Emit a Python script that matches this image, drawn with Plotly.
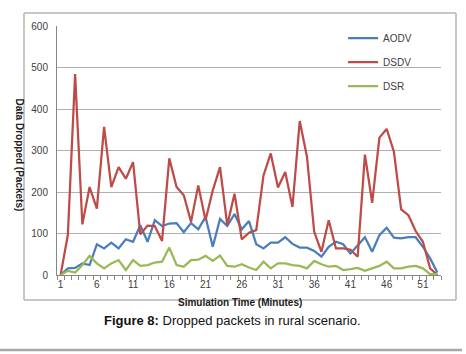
import plotly.graph_objects as go

minutes = list(range(1, 54))
aodv = [0, 16, 17, 28, 24, 74, 64, 78, 64, 86,
        80, 120, 80, 132, 118, 124, 125, 103, 125, 110,
        140, 68, 135, 118, 147, 110, 130, 74, 64, 78,
        78, 91, 75, 66, 66, 58, 44, 68, 80, 74,
        52, 72, 91, 56, 96, 114, 90, 88, 91, 91,
        68, 40, 6]
dsdv = [0, 97, 484, 122, 212, 160, 357, 212, 260, 232,
        272, 98, 119, 118, 82, 281, 212, 192, 128, 216,
        132, 204, 260, 120, 196, 86, 102, 108, 240, 293,
        211, 248, 164, 371, 285, 104, 56, 132, 64, 64,
        61, 44, 290, 174, 331, 352, 297, 158, 144, 106,
        80, 16, 0]
dsr = [0, 10, 6, 24, 46, 28, 16, 28, 36, 12,
       36, 22, 24, 30, 32, 66, 24, 20, 36, 37,
       46, 34, 47, 22, 20, 26, 18, 12, 32, 16,
       28, 28, 24, 22, 16, 34, 26, 20, 22, 12,
       14, 17, 10, 16, 22, 32, 16, 16, 20, 22,
       16, 2, 2]
x_ticks = [1, 6, 11, 16, 21, 26, 31, 36, 41, 46, 51]
y_ticks = [0, 100, 200, 300, 400, 500, 600]

series = [("AODV", aodv, "#4A7EBB"), ("DSDV", dsdv, "#BE4B48"), ("DSR", dsr, "#98B954")]

fig = go.Figure()
for i, (name, vals, col) in enumerate(series):
    fig.add_trace(go.Scatter(x=minutes, y=vals, name=name, mode="lines",
                             line=dict(color=col, width=2.25), legendgroup=str(i)))

font = "Liberation Sans, Arial, sans-serif"
W, H = 466, 354
L, R, T, B = 57, 25, 26, 79
pw, ph = W - L - R, H - T - B


def px(x):
    return (x - L) / pw


def py(y):
    return (H - B - y) / ph


fig.update_layout(
    width=W, height=H,
    margin=dict(l=L, r=R, t=T, b=B),
    paper_bgcolor="white", plot_bgcolor="white",
    font=dict(family=font, size=10, color="#404040"),
    showlegend=True,
    legend=dict(x=0.745, y=1.01, xanchor="left", yanchor="top",
                bgcolor="rgba(0,0,0,0)", font=dict(size=10, color="#404040"),
                tracegroupgap=5, traceorder="grouped"),
    xaxis=dict(range=[0.5, 53.5], tickmode="array", tickvals=x_ticks,
               ticktext=[str(v) for v in x_ticks], ticks="", showgrid=False,
               showline=True, linecolor="#868686", linewidth=1, zeroline=False,
               tickfont=dict(size=10, color="#404040"),
               minor=dict(tickmode="linear", tick0=0.5, dtick=1, ticks="outside",
                          ticklen=4, tickcolor="#868686", showgrid=False)),
    yaxis=dict(range=[0, 600], tickmode="array", tickvals=y_ticks,
               ticks="", showgrid=True, gridcolor="#B0B0B0", gridwidth=1,
               showline=True, linecolor="#868686", linewidth=1, zeroline=False,
               ticklabelstandoff=6,
               tickfont=dict(size=10, color="#404040")),
)

# outer chart frame (drawn as four lines)
frame = [(24, 13, 456, 13), (24, 300, 456, 300), (24, 13, 24, 300), (456, 13, 456, 300)]
for x0, y0, x1, y1 in frame:
    fig.add_shape(type="line", xref="paper", yref="paper",
                  x0=px(x0), x1=px(x1), y0=py(y0), y1=py(y1),
                  line=dict(color="#B4B4B4", width=1.5))
# page border at bottom of image
fig.add_shape(type="line", xref="paper", yref="paper",
              x0=px(0), x1=px(462), y0=py(350), y1=py(350),
              line=dict(color="#A8A8A8", width=2.5))

fig.add_annotation(text="<b>Data Dropped (Packets)</b>", textangle=90,
                   xref="paper", yref="paper", x=px(12), y=py(155),
                   showarrow=False, font=dict(size=10, color="#202020"))
fig.add_annotation(text="<b>Simulation Time (Minutes)</b>",
                   xref="paper", yref="paper", x=px(240), y=py(310),
                   showarrow=False, font=dict(size=10, color="#202020"))
fig.add_annotation(text="<b>Figure 8:</b> Dropped packets in rural scenario.",
                   xref="paper", yref="paper", x=px(232), y=py(330),
                   showarrow=False, font=dict(size=13, color="#111111"))

fig.write_html("out.html", config={"displayModeBar": False},
               post_script="document.body.style.margin='0';")
